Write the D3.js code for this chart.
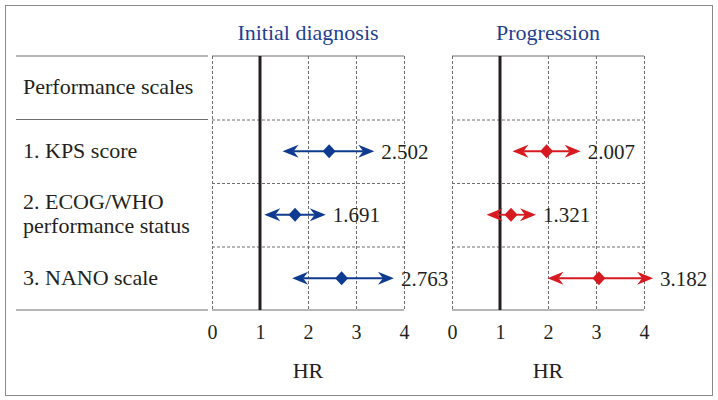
<!DOCTYPE html>
<html><head><meta charset="utf-8">
<script src="https://cdn.jsdelivr.net/npm/d3@7"></script>
<style>body{margin:0;background:#fff}svg{display:block}text{font-family:"Liberation Serif","Times New Roman",serif}</style>
</head><body>
<svg id="c" width="718" height="400"></svg>
<script>
// ---- data ----
const headerLabel = "Performance scales";
const rowLabels = [["1. KPS score"], ["2. ECOG/WHO", "performance status"], ["3. NANO scale"]];
const panelTitles = ["Initial diagnosis", "Progression"];
const initEst = [2.44, 1.73, 2.70];
const initLo  = [1.47, 1.09, 1.67];
const initHi  = [3.38, 2.37, 3.79];
const initLab = ["2.502", "1.691", "2.763"];
const progEst = [1.97, 1.23, 3.06];
const progLo  = [1.26, 0.72, 1.99];
const progHi  = [2.68, 1.75, 4.19];
const progLab = ["2.007", "1.321", "3.182"];
const tickVals = [0, 1, 2, 3, 4];
const axisTitle = "HR";

// ---- drawing ----
const svg = d3.select("#c");
const blue = "#0e3b8f", red = "#d71920", titleBlue = "#1f3f8f";
const gridCol = "#6f6f6f";

svg.append("rect").attr("x", 5.5).attr("y", 5.5).attr("width", 707).attr("height", 390)
  .attr("fill", "none").attr("stroke", "#8a8a8a").attr("stroke-width", 1);

const bandKeys = ["header", "r0", "r1", "r2"];
const y = d3.scaleBand().domain(bandKeys).range([56, 310]);
const yc = k => y(k) + y.bandwidth() / 2;

// left table rules
[56, y("r0"), 310].forEach(v => {
  svg.append("line").attr("x1", 16).attr("x2", 208).attr("y1", v).attr("y2", v)
    .attr("stroke", "#6f6f6f").attr("stroke-width", 1);
});
svg.append("text").attr("x", 23).attr("y", yc("header") + 6.5).attr("font-size", 22).attr("fill", "#231f20").text(headerLabel);
rowLabels.forEach((lines, i) => {
  const c = yc("r" + i);
  const n = lines.length;
  const off = n > 1 ? 6 : 7;
  lines.forEach((s, j) => {
    svg.append("text").attr("font-size", 22).attr("fill", "#231f20")
      .attr("x", 23).attr("y", c + off + (j - (n - 1) / 2) * 24.5).text(s);
  });
});

const panels = [
  {range: [212, 404], est: initEst, lo: initLo, hi: initHi, lab: initLab, col: blue, title: panelTitles[0]},
  {range: [452, 644], est: progEst, lo: progLo, hi: progHi, lab: progLab, col: red, title: panelTitles[1]}
];

panels.forEach(p => {
  const x = d3.scaleLinear().domain([0, 4]).range(p.range);
  const g = svg.append("g");
  [56, 310].forEach(v => g.append("line").attr("x1", x(0)).attr("x2", x(4)).attr("y1", v).attr("y2", v)
    .attr("stroke", gridCol).attr("stroke-width", 1));
  ["r0", "r1", "r2"].forEach(k => g.append("line").attr("x1", x(0)).attr("x2", x(4))
    .attr("y1", y(k) + 0.5).attr("y2", y(k) + 0.5)
    .attr("stroke", gridCol).attr("stroke-width", 1).attr("stroke-dasharray", "3,2"));
  tickVals.filter(t => t !== 1).forEach(t => g.append("line").attr("x1", x(t) + 0.5).attr("x2", x(t) + 0.5)
    .attr("y1", 56).attr("y2", 310).attr("stroke", gridCol).attr("stroke-width", 1).attr("stroke-dasharray", "3,2"));
  g.append("line").attr("x1", x(1)).attr("x2", x(1)).attr("y1", 56).attr("y2", 310)
    .attr("stroke", "#231f20").attr("stroke-width", 3);
  const ax = g.append("g").attr("transform", "translate(0,320)")
    .call(d3.axisBottom(x).tickValues(tickVals).tickFormat(d3.format("d")).tickSize(0).tickPadding(0));
  ax.select(".domain").remove();
  ax.selectAll("text").attr("font-size", 20).attr("fill", "#231f20")
    .attr("font-family", '"Liberation Serif","Times New Roman",serif').attr("dy", "0.95em");
  g.append("text").attr("x", (x(0) + x(4)) / 2).attr("y", 378).attr("text-anchor", "middle")
    .attr("font-size", 22).attr("fill", "#231f20").text(axisTitle);
  g.append("text").attr("x", (x(0) + x(4)) / 2).attr("y", 40).attr("text-anchor", "middle")
    .attr("font-size", 22).attr("fill", titleBlue).text(p.title);

  p.est.forEach((e, i) => {
    const cy = yc("r" + i);
    const x0 = x(p.lo[i]), x1 = x(p.hi[i]), xe = x(e);
    const hl = 16, hh = 6.5, notch = 5;
    g.append("line").attr("x1", x0 + hl - notch).attr("x2", x1 - hl + notch).attr("y1", cy).attr("y2", cy)
      .attr("stroke", p.col).attr("stroke-width", 1.8);
    g.append("path").attr("fill", p.col)
      .attr("d", `M${x0},${cy} L${x0 + hl},${cy - hh} L${x0 + hl - notch},${cy} L${x0 + hl},${cy + hh} Z`);
    g.append("path").attr("fill", p.col)
      .attr("d", `M${x1},${cy} L${x1 - hl},${cy - hh} L${x1 - hl + notch},${cy} L${x1 - hl},${cy + hh} Z`);
    g.append("path").attr("fill", p.col)
      .attr("d", `M${xe},${cy - 7} L${xe + 6.5},${cy} L${xe},${cy + 7} L${xe - 6.5},${cy} Z`);
    g.append("text").attr("x", x1 + 7).attr("y", cy + 7.5).attr("font-size", 21).attr("fill", "#231f20").text(p.lab[i]);
  });
});
</script>
</body></html>
